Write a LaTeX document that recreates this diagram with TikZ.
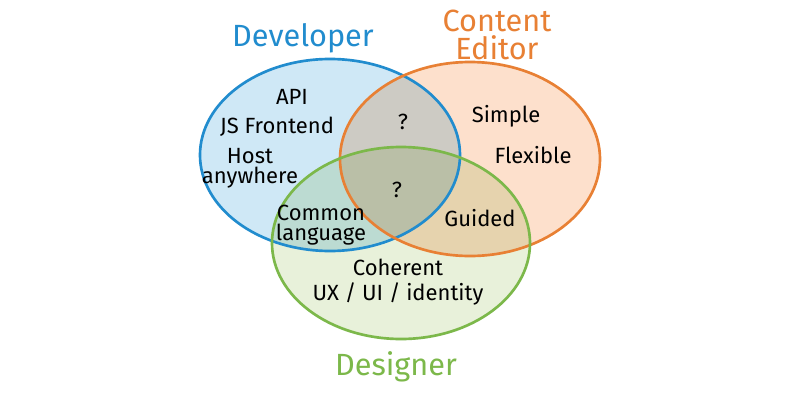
\documentclass[tikz,border=0pt]{standalone}
\usepackage{fontspec}
\setmainfont{Fira Sans}
\definecolor{devline}{RGB}{33,140,206}
\definecolor{devfill}{RGB}{207,232,246}
\definecolor{conline}{RGB}{232,128,52}
\definecolor{confill}{RGB}{253,224,204}
\definecolor{desline}{RGB}{124,184,74}
\definecolor{desfill}{RGB}{232,241,218}
\tikzset{
  label text/.style={inner sep=0.75pt, align=center, font=\fontsize{16.5}{15}\selectfont},
  title text/.style={inner sep=0.75pt, align=center, font=\fontsize{23}{21.5}\selectfont},
  ring/.style={line width=2pt}
}
\begin{document}
\begin{tikzpicture}[x=0.75pt,y=0.75pt,yscale=-1,xscale=1]
\path[use as bounding box, fill=white] (0,0) rectangle (800,400);

%Shape: Ellipse [Developer]
\fill[devfill, blend mode=multiply] (330,155) ellipse (130 and 96);
%Shape: Ellipse [Content Editor]
\fill[confill, blend mode=multiply] (470,159) ellipse (130 and 97);
%Shape: Ellipse [Designer]
\fill[desfill, blend mode=multiply] (401,243) ellipse (129 and 96);
\draw[ring, devline] (330,155) ellipse (130 and 96);
\draw[ring, conline] (470,159) ellipse (130 and 97);
\draw[ring, desline] (401,243) ellipse (129 and 96);

% Title Nodes
\draw (303,38) node [title text, text=devline] (developer) {Developer};
\draw (497,35) node [title text, text=conline] (editor) {Content\\Editor};
\draw (396,367) node [title text, text=desline] (designer) {Designer};

% Text Node
\draw (292,97) node [label text] (api) {API};
% Text Node
\draw (277,127) node [label text] (frontend) {JS Frontend};
% Text Node
\draw (250,168) node [label text] (host) {Host\\anywhere};
% Text Node
\draw (403,122) node [label text] (devcon) {?};
% Text Node
\draw (506,116) node [label text] (simple) {Simple};
% Text Node
\draw (533,155) node [label text] (flexible) {Flexible};
% Text Node
\draw (397,190) node [label text] (all) {?};
% Text Node
\draw (321,225) node [label text] (common) {Common\\language};
% Text Node
\draw (480,218) node [label text] (guided) {Guided};
% Text Node
\draw (398,282) node [label text, font=\fontsize{16.5}{18.5}\selectfont] (coherent) {Coherent\\UX / UI / identity};
\end{tikzpicture}
\end{document}
